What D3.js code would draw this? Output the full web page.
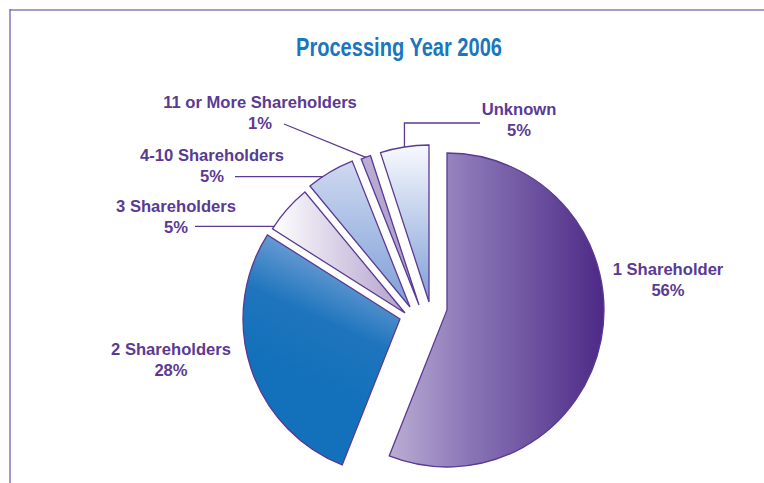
<!DOCTYPE html>
<html><head><meta charset="utf-8">
<script src="https://cdn.jsdelivr.net/npm/d3@7"></script>
<style>body{margin:0;background:#fff}svg{display:block}</style>
</head><body>
<script>
// ---- data ----
const title = "Processing Year 2006";
const categories = ["1 Shareholder","2 Shareholders","3 Shareholders","4-10 Shareholders","11 or More Shareholders","Unknown"];
const values = [56, 28, 5, 5, 1, 5];
const percentLabels = values.map(v => v + "%");

// ---- layout / style ----
const W = 764, H = 483, R = 157;
const base = [415, 312];
// per-slice placement offsets (exploded look)
const offsets = [[32,-2],[-15,7],[-10,1],[-5,-5],[4,-7],[14,-10]];
const fills = ["gPurple","gBlue","g3","g410","g11","gUnk"];
const labelPos = [[668,275],[171,355],[176,212],[212,161],[260,108],[519,115]];
const purple = "#5b3a93";

const svg = d3.select("body").append("svg").attr("width", W).attr("height", H);
const defs = svg.append("defs");
function grad(id, x1,y1,x2,y2, stops){
  const g = defs.append("linearGradient").attr("id", id)
    .attr("x1",x1).attr("y1",y1).attr("x2",x2).attr("y2",y2);
  stops.forEach(s => g.append("stop").attr("offset", s[0]).attr("stop-color", s[1]));
}
grad("gPurple",0,0,1,0,[[0,"#bbadd4"],[0.35,"#8c79b8"],[1,"#4d2986"]]);
grad("gBlue",0.7,0,0.5,0.65,[[0,"#93b2e0"],[0.6,"#1f75bd"],[1,"#1271ba"]]);
grad("g3",0,0,1,0,[[0,"#ffffff"],[1,"#b1a0cc"]]);
grad("g410",0,0,0,1,[[0,"#cfd9f0"],[1,"#7e9fd7"]]);
grad("g11",0,0,0,1,[[0,"#bbaed5"],[1,"#a596c9"]]);
grad("gUnk",0,0,0,1,[[0,"#f8f9fd"],[1,"#7f9fd7"]]);

// frame
svg.append("line").attr("x1",10).attr("x2",W).attr("y1",10).attr("y2",10)
  .attr("stroke","#ab9bc9").attr("stroke-width",2);
svg.append("line").attr("x1",10).attr("x2",10).attr("y1",9).attr("y2",H)
  .attr("stroke","#6a50a8").attr("stroke-width",1.2);

// title
svg.append("text").attr("x",399).attr("y",56).attr("text-anchor","middle")
  .attr("font-family","'Liberation Sans Narrow', 'Liberation Sans', sans-serif")
  .attr("font-weight","bold").attr("font-size",25.5).attr("fill","#1a76bd")
  .attr("textLength",206).attr("lengthAdjust","spacingAndGlyphs")
  .text(title);

// pie
const arcs = d3.pie().sort(null).value(d => d)(values);
const arc = d3.arc().innerRadius(0).outerRadius(R);
const centers = arcs.map((a,i) => [base[0]+offsets[i][0], base[1]+offsets[i][1]]);

svg.append("g").selectAll("path").data(arcs).join("path")
  .attr("transform", (d,i) => `translate(${centers[i][0]},${centers[i][1]})`)
  .attr("d", arc)
  .attr("fill", (d,i) => `url(#${fills[i]})`)
  .attr("stroke", purple).attr("stroke-width", 1.3).attr("stroke-linejoin","miter");

// leader lines
function pt(i, frac){
  const a = arcs[i].startAngle + frac*(arcs[i].endAngle - arcs[i].startAngle);
  return [centers[i][0] + R*Math.sin(a), centers[i][1] - R*Math.cos(a)];
}
const leaders = [];
{ const p = pt(2, 0.06); leaders.push([[195,p[1]], p]); }
{ const p = pt(3, 0.32); leaders.push([[235,p[1]], p]); }
{ const p = pt(4, 0.5); leaders.push([[284,124], p]); }
{ const p = pt(5, 0.5); leaders.push([[480,123],[p[0],123], p]); }
svg.append("g").selectAll("path").data(leaders).join("path")
  .attr("d", d => d3.line()(d)).attr("fill","none")
  .attr("stroke", purple).attr("stroke-width", 1.3);

// labels
const lab = svg.append("g")
  .attr("font-family","'Liberation Sans', Arial, sans-serif")
  .attr("font-weight","bold").attr("font-size",16.6).attr("fill",purple)
  .attr("text-anchor","middle");
categories.forEach((c,i) => {
  const t = lab.append("text").attr("x",labelPos[i][0]).attr("y",labelPos[i][1]);
  t.append("tspan").attr("x",labelPos[i][0]).text(c);
  t.append("tspan").attr("x",labelPos[i][0]).attr("dy",21).text(percentLabels[i]);
});
</script>
</body></html>
